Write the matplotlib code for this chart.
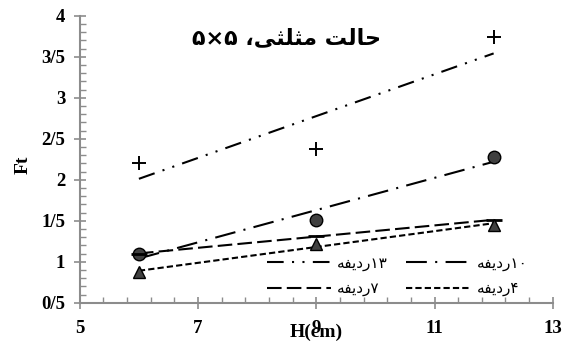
import matplotlib
matplotlib.use('Agg')
import matplotlib.pyplot as plt
from matplotlib.ticker import FuncFormatter, MultipleLocator, AutoMinorLocator
import numpy as np

# data
h_cm = [6, 9, 12]
ft_13 = [2.21, 2.38, 3.74]
ft_10 = [1.10, 1.51, 2.28]
ft_7 = [1.10, 1.31, 1.51]
ft_4 = [0.87, 1.22, 1.45]
x_ticks = [5, 7, 9, 11, 13]

# Persian text, written in visual order with presentation forms
word_row = '\uFEEA\uFED4\uFEF3\uFEA9\uFEAD'   # ردیفه
labels = {
    '13': word_row + '\u06F1\u06F3',
    '10': word_row + '\u06F1\u06F0',
    '7': word_row + '\u06F7',
    '4': word_row + '\u06F4',
}
title_txt = '\u06F5\u00D7\u06F5 \u060C' + '\uFEF0\uFE9C\uFEE0\uFE9C\uFEE3' + ' ' + '\uFE96\uFEDF\uFE8E\uFEA3'

fig = plt.figure(figsize=(5.74, 3.52), dpi=100)
ax = fig.add_axes([0.139, 0.14, 0.824, 0.815])

series = [
    ('13', ft_13, (0, (8, 4, 1, 4, 1, 4)), dict(marker='+', ms=10, mew=1.4, color='black')),
    ('10', ft_10, (0, (10, 4, 1, 4)), dict(marker='o', ms=9, mfc='#404040', mec='black', mew=1.0)),
    ('7', ft_7, (0, (7, 2.5)), dict(marker='_', ms=12, mew=2.0, color='black')),
    ('4', ft_4, (0, (3, 1.5)), dict(marker='^', ms=9, mfc='#404040', mec='black', mew=1.0)),
]

handles = {}
xfit = np.array([6, 12])
for key, vals, ls, mk in series:
    # trend line
    p = np.polyfit(h_cm, vals, 1)
    ln, = ax.plot(xfit, np.polyval(p, xfit), color='black', lw=1.5, linestyle=ls, label=labels[key], zorder=2)
    handles[key] = ln
    ax.plot(h_cm, vals, linestyle='none', zorder=3, **mk)

ax.set_xlim(5, 13)
ax.set_ylim(0.5, 4)
ax.set_xticks(x_ticks)
ax.set_xticks(np.arange(5, 13.01, 0.4), minor=True)
ax.yaxis.set_major_locator(MultipleLocator(0.5))
ax.yaxis.set_minor_locator(AutoMinorLocator(5))

def fmt(v, pos):
    s = ('%g' % v)
    return s.replace('.', '/')

ax.yaxis.set_major_formatter(FuncFormatter(fmt))

for s in ['top', 'right']:
    ax.spines[s].set_visible(False)
for s in ['left', 'bottom']:
    ax.spines[s].set_color('#8c8c8c')
    ax.spines[s].set_linewidth(1.5)

ax.tick_params(which='major', direction='inout', length=9, width=1.2, color='#8c8c8c')
ax.tick_params(which='minor', direction='in', length=4, width=1.0, color='#8c8c8c')
for lab in ax.get_xticklabels() + ax.get_yticklabels():
    lab.set_fontfamily('Liberation Serif')
    lab.set_fontweight('bold')
    lab.set_fontsize(13.5)
ax.tick_params(axis='x', pad=8)
ax.tick_params(axis='y', pad=6)

# the reference puts the axis title right on top of the "9" label
ax.set_xlabel('H(cm)', fontfamily='Liberation Serif', fontweight='bold', fontsize=14, va='center')
ax.xaxis.set_label_coords(0.5, -0.105)
ax.set_ylabel('Ft', fontfamily='Liberation Serif', fontweight='bold', fontsize=14, va='center')
ax.yaxis.set_label_coords(-0.12, 0.48)

fig.text(0.5, 0.89, title_txt, ha='center', va='center', fontsize=16,
         fontweight='bold', family=['DejaVu Sans'])

leg = ax.legend([handles['13'], handles['7'], handles['10'], handles['4']],
                [labels['13'], labels['7'], labels['10'], labels['4']],
                ncol=2, loc='lower right', bbox_to_anchor=(0.975, -0.025), frameon=False,
                handlelength=4.2, handletextpad=0.4, columnspacing=1.2, labelspacing=0.65,
                prop={'family': ['DejaVu Sans'], 'size': 11})

fig.savefig('out.png', dpi=100)
